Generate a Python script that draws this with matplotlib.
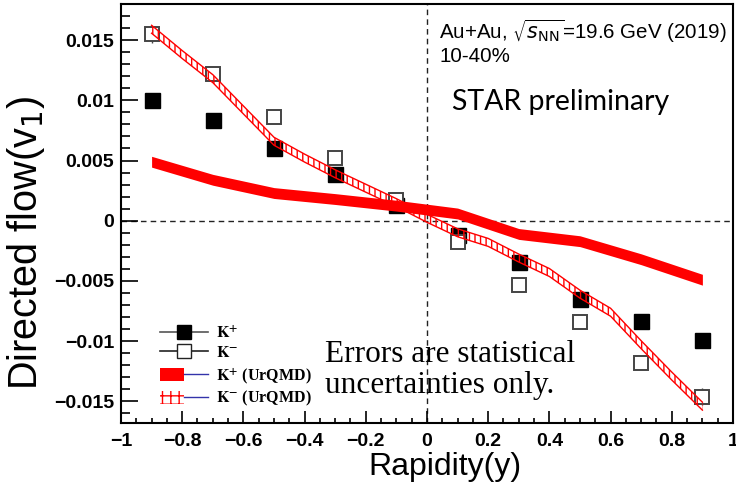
import matplotlib
matplotlib.use("Agg")
import matplotlib.pyplot as plt
import numpy as np
from matplotlib.lines import Line2D
from matplotlib.patches import Patch
from matplotlib.legend_handler import HandlerTuple
from matplotlib.ticker import MultipleLocator, FuncFormatter

plt.rcParams['font.family'] = ['Liberation Sans', 'DejaVu Sans']
plt.rcParams['mathtext.fontset'] = 'stix'
plt.rcParams['hatch.linewidth'] = 1.0

# measured v1 vs rapidity
rapidity = [-0.9, -0.7, -0.5, -0.3, -0.1, 0.1, 0.3, 0.5, 0.7, 0.9]
v1_kplus = [0.0100, 0.0084, 0.0060, 0.0039, 0.0013, -0.0012, -0.0034, -0.0065, -0.0083, -0.0099]
v1_kminus = [0.0155, 0.0122, 0.0086, 0.0052, 0.0017, -0.0018, -0.0053, -0.0084, -0.0118, -0.0146]
err_kplus = [0.0003, 0.0003, 0.0002, 0.0002, 0.0002, 0.0002, 0.0002, 0.0002, 0.0003, 0.0003]
err_kminus = [0.0007, 0.0004, 0.0003, 0.0003, 0.0002, 0.0002, 0.0003, 0.0003, 0.0004, 0.0007]

# UrQMD K+ band
urqmd_kplus_y = [-0.9, -0.7, -0.5, -0.3, -0.1, 0.1, 0.3, 0.5, 0.7, 0.9]
urqmd_kplus = [0.0049, 0.0034, 0.0023, 0.0018, 0.00125, 0.0006, -0.0011, -0.0017, -0.0032, -0.0049]
urqmd_kplus_w = 0.00045

# UrQMD K- band
urqmd_kminus_y = [-0.9, -0.8, -0.7, -0.6, -0.5, -0.4, -0.3, -0.2, -0.1, 0.0,
                  0.1, 0.2, 0.3, 0.4, 0.5, 0.6, 0.7, 0.8, 0.9]
urqmd_kminus = [0.0159, 0.0138, 0.0118, 0.0092, 0.0066, 0.0052, 0.0039, 0.0027, 0.0015, 0.0002,
                -0.0010, -0.0018, -0.0031, -0.0043, -0.0061, -0.0076, -0.0103, -0.0129, -0.0154]
urqmd_kminus_w = 0.00033

fig = plt.figure(figsize=(7.36, 4.92), dpi=100)
ax = fig.add_axes([0.1644, 0.1402, 0.8315, 0.8517])

ax.axhline(0, color='#222222', lw=1.0, ls=(0, (4, 3)), zorder=1)
ax.axvline(0, color='#222222', lw=1.0, ls=(0, (4, 3)), zorder=1)

ax.errorbar(rapidity, v1_kplus, yerr=err_kplus, fmt='s', color='black', ms=10.8,
            mec='black', mfc='black', elinewidth=1, capsize=0, zorder=3)
ax.errorbar(rapidity, v1_kminus, yerr=err_kminus, fmt='s', color='#444444', ms=10.3,
            mec='#444444', mfc='white', mew=1.4, elinewidth=1, capsize=0, zorder=3)

kp_lo = np.array(urqmd_kplus) - urqmd_kplus_w
kp_hi = np.array(urqmd_kplus) + urqmd_kplus_w
ax.fill_between(urqmd_kplus_y, kp_lo, kp_hi, color='red', lw=0, zorder=4)

km_lo = np.array(urqmd_kminus) - urqmd_kminus_w
km_hi = np.array(urqmd_kminus) + urqmd_kminus_w
ax.fill_between(urqmd_kminus_y, km_lo, km_hi, facecolor='none', edgecolor='red',
                hatch='|||', lw=0, zorder=5)
ax.plot(urqmd_kminus_y, km_lo, color='red', lw=1, zorder=5)
ax.plot(urqmd_kminus_y, km_hi, color='red', lw=1, zorder=5)

ax.set_xlim(-1, 1)
ax.set_ylim(-0.0168, 0.018)

ax.xaxis.set_major_locator(MultipleLocator(0.2))
ax.xaxis.set_minor_locator(MultipleLocator(0.05))
ax.yaxis.set_major_locator(MultipleLocator(0.005))
ax.yaxis.set_minor_locator(MultipleLocator(0.001))


def fmt(v, pos):
    s = '%g' % round(v, 4)
    if s == '-0':
        s = '0'
    return s.replace('-', '\u2212')


ax.xaxis.set_major_formatter(FuncFormatter(fmt))
ax.yaxis.set_major_formatter(FuncFormatter(fmt))
ax.tick_params(which='both', direction='in', top=False, right=False)
ax.tick_params(axis='x', which='major', length=8.6, width=1.2, pad=7)
ax.tick_params(axis='x', which='minor', length=3.8, width=1.2)
ax.tick_params(axis='y', which='major', length=12, width=1.2, pad=5)
ax.tick_params(axis='y', which='minor', length=6.5, width=1.2)
for lab in ax.get_xticklabels() + ax.get_yticklabels():
    lab.set_fontweight('bold')
    lab.set_fontsize(14)
for sp in ax.spines.values():
    sp.set_linewidth(1.5)

ax.set_xlabel('Rapidity(y)', fontsize=23)
ax.set_ylabel('Directed flow(v$_1$)', fontsize=28.5, math_fontfamily='dejavusans')
ax.xaxis.set_label_coords(0.53, -0.068)
ax.yaxis.set_label_coords(-0.121, 0.43)

ax.text(0.52, 0.936, r'Au+Au, $\sqrt{s_{\mathrm{NN}}}$=19.6 GeV (2019)', transform=ax.transAxes,
        fontsize=14.8, ha='left', va='center', math_fontfamily='dejavusans')
ax.text(0.52, 0.874, '10-40%', transform=ax.transAxes, fontsize=14.8, ha='left', va='center')
ax.text(0.541, 0.765, 'STAR preliminary', transform=ax.transAxes, fontsize=20.5,
        family=['Lato', 'DejaVu Sans'], ha='left', va='center')
ax.text(0.334, 0.127, 'Errors are statistical\nuncertainties only.', transform=ax.transAxes,
        fontsize=22.5, family=['Liberation Serif', 'DejaVu Serif'], ha='left', va='center',
        linespacing=1.1)

h_kp = Line2D([], [], color='#555555', lw=1.2, marker='s', ms=10.5, mfc='black', mec='black')
h_km = Line2D([], [], color='#222222', lw=1.2, marker='s', ms=10, mfc='white', mec='#222222')
h_kpu = (Patch(facecolor='red', edgecolor='none'), Line2D([], [], color='#3333aa', lw=1))
h_kmu = (Patch(facecolor='white', edgecolor='red', hatch='++', lw=0), Line2D([], [], color='#3333aa', lw=1))
leg = ax.legend([h_kp, h_km, h_kpu, h_kmu],
                [r'$\mathbf{K^{+}}$', r'$\mathbf{K^{-}}$',
                 r'$\mathbf{K^{+}}$ (UrQMD)', r'$\mathbf{K^{-}}$ (UrQMD)'],
                handler_map={tuple: HandlerTuple(ndivide=None, pad=0)},
                loc='upper left', bbox_to_anchor=(0.045, 0.262), frameon=False,
                prop={'family': ['Liberation Serif', 'DejaVu Serif'], 'weight': 'bold', 'size': 11.5},
                handlelength=3.0, handleheight=0.9, handletextpad=0.55, labelspacing=0.22,
                borderpad=0.2)

fig.savefig('out.png', dpi=100)
